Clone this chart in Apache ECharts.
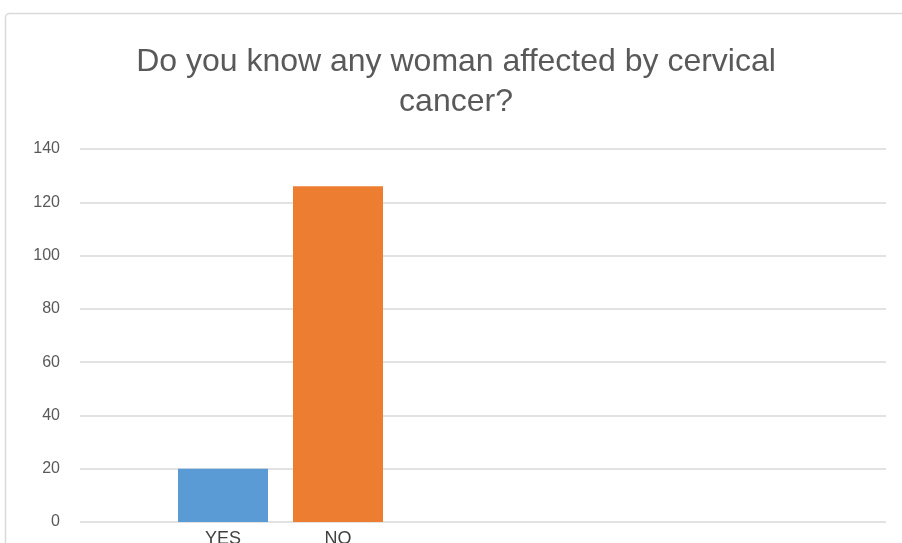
<!DOCTYPE html>
<html>
<head>
<meta charset="utf-8">
<script src="https://cdn.jsdelivr.net/npm/echarts@6/dist/echarts.min.js"></script>
<style>
  html, body { margin: 0; padding: 0; background: #fff; }
  #chart { width: 902px; height: 543px; }
</style>
</head>
<body>
<div id="chart"></div>
<script>
// Survey answers and respondent counts
const categories = ['YES', 'NO'];
const counts = [20, 126];
const barColors = ['#5B9BD5', '#ED7D31'];
const titleText = 'Do you know any woman affected by cervical\ncancer?';
const yMin = 0;
const yMax = 140;
const yStep = 20;

const chart = echarts.init(document.getElementById('chart'), null, { renderer: 'canvas' });

chart.setOption({
  backgroundColor: '#ffffff',
  animation: false,
  title: {
    text: titleText,
    left: 451,
    top: 37,
    textAlign: 'center',
    textStyle: {
      fontFamily: '"Liberation Sans", sans-serif',
      fontSize: 32,
      fontWeight: 'normal',
      color: '#595959',
      lineHeight: 40
    }
  },
  graphic: [{
    type: 'rect',
    shape: { x: 5.5, y: 13.5, width: 1000, height: 700, r: 4 },
    style: { fill: 'none', stroke: '#d9d9d9', lineWidth: 1.5 },
    silent: true,
    z: -1
  }],
  grid: [
    // full plot area: value axis and gridlines
    { left: 80, right: 16, top: 149, bottom: 21, containLabel: false, outerBoundsMode: 'none' },
    // bar cluster area
    { left: 165.5, width: 230, top: 149, bottom: 21, containLabel: false, outerBoundsMode: 'none' }
  ],
  xAxis: [
    {
      gridIndex: 0, type: 'category', data: [''],
      axisLine: { show: false }, axisTick: { show: false }, axisLabel: { show: false }
    },
    {
      gridIndex: 1, type: 'category', data: categories,
      axisLine: { show: false }, axisTick: { show: false },
      axisLabel: {
        margin: 8,
        fontFamily: '"Liberation Sans", sans-serif',
        fontSize: 18,
        color: '#404040'
      }
    }
  ],
  yAxis: [
    {
      gridIndex: 0, type: 'value', min: yMin, max: yMax, interval: yStep,
      axisLine: { show: false }, axisTick: { show: false },
      axisLabel: {
        margin: 20,
        fontFamily: '"Liberation Sans", sans-serif',
        fontSize: 16,
        color: '#595959'
      },
      splitLine: { lineStyle: { color: '#d9d9d9', width: 1.5 } }
    },
    {
      gridIndex: 1, type: 'value', min: yMin, max: yMax, interval: yStep,
      show: false, splitLine: { show: false }
    }
  ],
  series: [{
    type: 'bar',
    xAxisIndex: 1,
    yAxisIndex: 1,
    barWidth: 90,
    data: counts.map((v, i) => ({ value: v, itemStyle: { color: barColors[i] } })),
    z: 3
  }]
});
</script>
</body>
</html>
